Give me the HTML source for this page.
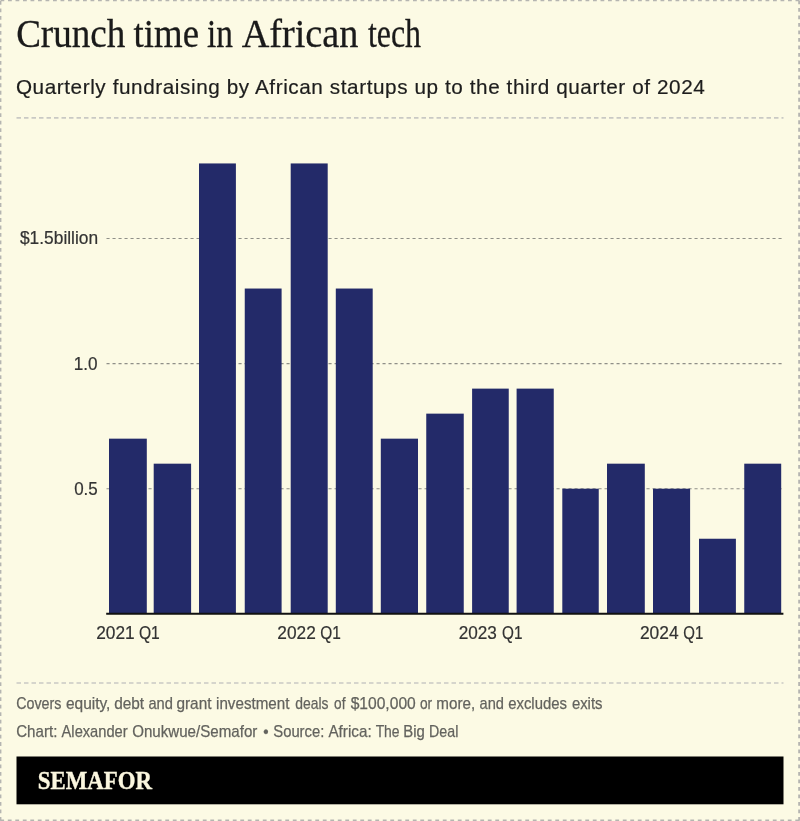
<!DOCTYPE html>
<html lang="en"><head><meta charset="utf-8"><title>Crunch time in African tech</title>
<style>html,body{margin:0;padding:0;background:#FCFAE4;}body{width:800px;height:821px;overflow:hidden;position:relative;font-family:"Liberation Sans",sans-serif;}svg{display:block;position:absolute;left:0;top:0;}</style>
</head><body>
<svg width="800" height="821" viewBox="0 0 800 821" role="img" aria-label="Crunch time in African tech">
<title>Crunch time in African tech</title>
<desc>Bar chart: Quarterly fundraising by African startups up to the third quarter of 2024, in billions of dollars, from 2021 Q1 to 2024 Q3. Covers equity, debt and grant investment deals of $100,000 or more, and excludes exits. Chart: Alexander Onukwue/Semafor • Source: Africa: The Big Deal. SEMAFOR</desc>
<rect x="0" y="0" width="800" height="821" fill="#FCFAE4"/>
<g stroke="#b5b5b1" fill="none">
<line x1="0.5" y1="0.65" x2="800" y2="0.65" stroke-width="1.3" stroke-dasharray="3.8 3.7"/>
<line x1="0.3" y1="820.3" x2="800" y2="820.3" stroke-width="1.4" stroke-dasharray="3.8 3.7"/>
<line x1="0.7" y1="1.0" x2="0.7" y2="821" stroke-width="1.4" stroke-dasharray="3.8 3.686"/>
<line x1="799.1" y1="0.5" x2="799.1" y2="821" stroke-width="1.8" stroke-dasharray="3.8 3.69"/>
</g>
<line x1="16.5" y1="117.9" x2="783.5" y2="117.9" stroke="#c9c9c4" stroke-width="1.6" stroke-dasharray="4.5 3"/>
<line x1="16.5" y1="683" x2="783.5" y2="683" stroke="#c9c9c4" stroke-width="1.6" stroke-dasharray="4.5 3"/>
<line x1="106.5" y1="488.70" x2="783.5" y2="488.70" stroke="#8f8f88" stroke-width="1.15" stroke-dasharray="3.1 2.9"/>
<line x1="106.5" y1="363.60" x2="783.5" y2="363.60" stroke="#8f8f88" stroke-width="1.15" stroke-dasharray="3.1 2.9"/>
<line x1="106.5" y1="238.50" x2="783.5" y2="238.50" stroke="#8f8f88" stroke-width="1.15" stroke-dasharray="3.1 2.9"/>
<rect x="109.00" y="438.66" width="37.80" height="174.84" fill="#232A69"/>
<rect x="153.70" y="463.68" width="37.40" height="149.82" fill="#232A69"/>
<rect x="199.00" y="163.44" width="36.90" height="450.06" fill="#232A69"/>
<rect x="244.75" y="288.54" width="36.85" height="324.96" fill="#232A69"/>
<rect x="290.70" y="163.44" width="37.00" height="450.06" fill="#232A69"/>
<rect x="335.80" y="288.54" width="36.90" height="324.96" fill="#232A69"/>
<rect x="380.80" y="438.66" width="37.20" height="174.84" fill="#232A69"/>
<rect x="426.25" y="413.64" width="37.50" height="199.86" fill="#232A69"/>
<rect x="472.10" y="388.62" width="36.65" height="224.88" fill="#232A69"/>
<rect x="516.60" y="388.62" width="37.15" height="224.88" fill="#232A69"/>
<rect x="562.30" y="488.70" width="36.45" height="124.80" fill="#232A69"/>
<rect x="607.00" y="463.68" width="37.80" height="149.82" fill="#232A69"/>
<rect x="653.00" y="488.70" width="37.10" height="124.80" fill="#232A69"/>
<rect x="699.00" y="538.74" width="36.90" height="74.76" fill="#232A69"/>
<rect x="744.25" y="463.68" width="36.95" height="149.82" fill="#232A69"/>
<line x1="106.2" y1="613.80" x2="783.4" y2="613.80" stroke="#111" stroke-width="1.9"/>
<rect x="16.5" y="756.5" width="767" height="47.8" fill="#000"/>
<text y="46.60" font-family="'Liberation Serif', serif" font-size="41" fill="#1a1a1a" stroke="#1a1a1a" stroke-width="0.3"><tspan x="16.14" textLength="109.20" lengthAdjust="spacingAndGlyphs">Crunch</tspan><tspan> </tspan><tspan x="133.58" textLength="65.41" lengthAdjust="spacingAndGlyphs">time</tspan><tspan> </tspan><tspan x="206.90" textLength="25.94" lengthAdjust="spacingAndGlyphs">in</tspan><tspan> </tspan><tspan x="241.66" textLength="116.74" lengthAdjust="spacingAndGlyphs">African</tspan><tspan> </tspan><tspan x="367.91" textLength="53.14" lengthAdjust="spacingAndGlyphs">tech</tspan></text>
<text y="94.40" font-family="'Liberation Sans', sans-serif" font-size="20.7" fill="#1d1d1d" stroke="#1d1d1d" stroke-width="0.2"><tspan x="15.91" textLength="688.84" lengthAdjust="spacing">Quarterly fundraising by African startups up to the third quarter of 2024</tspan></text>
<text y="244.40" font-family="'Liberation Sans', sans-serif" font-size="17.5" fill="#333" stroke="#333" stroke-width="0.2"><tspan x="19.95" textLength="78.19" lengthAdjust="spacingAndGlyphs">$1.5billion</tspan></text>
<text y="369.70" font-family="'Liberation Sans', sans-serif" font-size="17.5" fill="#333" stroke="#333" stroke-width="0.2"><tspan x="73.71" textLength="23.82" lengthAdjust="spacingAndGlyphs">1.0</tspan></text>
<text y="494.60" font-family="'Liberation Sans', sans-serif" font-size="17.5" fill="#333" stroke="#333" stroke-width="0.2"><tspan x="74.15" textLength="23.56" lengthAdjust="spacingAndGlyphs">0.5</tspan></text>
<text y="639.00" font-family="'Liberation Sans', sans-serif" font-size="17.5" fill="#333" stroke="#333" stroke-width="0.2"><tspan x="96.23" textLength="38.47" lengthAdjust="spacingAndGlyphs">2021</tspan><tspan> </tspan><tspan x="138.89" textLength="20.90" lengthAdjust="spacingAndGlyphs">Q1</tspan><tspan> </tspan><tspan x="277.32" textLength="38.48" lengthAdjust="spacingAndGlyphs">2022</tspan><tspan> </tspan><tspan x="320.16" textLength="20.60" lengthAdjust="spacingAndGlyphs">Q1</tspan><tspan> </tspan><tspan x="458.73" textLength="38.16" lengthAdjust="spacingAndGlyphs">2023</tspan><tspan> </tspan><tspan x="502.00" textLength="20.42" lengthAdjust="spacingAndGlyphs">Q1</tspan><tspan> </tspan><tspan x="639.91" textLength="38.66" lengthAdjust="spacingAndGlyphs">2024</tspan><tspan> </tspan><tspan x="683.30" textLength="19.98" lengthAdjust="spacingAndGlyphs">Q1</tspan></text>
<text y="708.70" font-family="'Liberation Sans', sans-serif" font-size="16.4" fill="#63635e" stroke="#63635e" stroke-width="0.25"><tspan x="16.20" textLength="45.29" lengthAdjust="spacingAndGlyphs">Covers</tspan><tspan> </tspan><tspan x="65.94" textLength="44.49" lengthAdjust="spacingAndGlyphs">equity,</tspan><tspan> </tspan><tspan x="114.20" textLength="29.93" lengthAdjust="spacingAndGlyphs">debt</tspan><tspan> </tspan><tspan x="148.46" textLength="24.48" lengthAdjust="spacingAndGlyphs">and</tspan><tspan> </tspan><tspan x="176.43" textLength="35.03" lengthAdjust="spacingAndGlyphs">grant</tspan><tspan> </tspan><tspan x="216.05" textLength="73.43" lengthAdjust="spacingAndGlyphs">investment</tspan><tspan> </tspan><tspan x="295.23" textLength="33.23" lengthAdjust="spacingAndGlyphs">deals</tspan><tspan> </tspan><tspan x="334.07" textLength="11.38" lengthAdjust="spacingAndGlyphs">of</tspan><tspan> </tspan><tspan x="350.63" textLength="65.16" lengthAdjust="spacingAndGlyphs">$100,000</tspan><tspan> </tspan><tspan x="419.95" textLength="12.23" lengthAdjust="spacingAndGlyphs">or</tspan><tspan> </tspan><tspan x="436.37" textLength="38.83" lengthAdjust="spacingAndGlyphs">more,</tspan><tspan> </tspan><tspan x="479.57" textLength="24.46" lengthAdjust="spacingAndGlyphs">and</tspan><tspan> </tspan><tspan x="508.22" textLength="58.74" lengthAdjust="spacingAndGlyphs">excludes</tspan><tspan> </tspan><tspan x="571.92" textLength="30.60" lengthAdjust="spacingAndGlyphs">exits</tspan></text>
<text y="736.50" font-family="'Liberation Sans', sans-serif" font-size="16.4" fill="#63635e" stroke="#63635e" stroke-width="0.25"><tspan x="16.20" textLength="41.21" lengthAdjust="spacingAndGlyphs">Chart:</tspan><tspan> </tspan><tspan x="61.59" textLength="66.08" lengthAdjust="spacingAndGlyphs">Alexander</tspan><tspan> </tspan><tspan x="132.20" textLength="125.14" lengthAdjust="spacingAndGlyphs">Onukwue/Semafor</tspan><tspan> </tspan><tspan x="263.18" textLength="5.37" lengthAdjust="spacingAndGlyphs">•</tspan><tspan> </tspan><tspan x="273.28" textLength="51.05" lengthAdjust="spacingAndGlyphs">Source:</tspan><tspan> </tspan><tspan x="328.46" textLength="43.18" lengthAdjust="spacingAndGlyphs">Africa:</tspan><tspan> </tspan><tspan x="375.63" textLength="23.96" lengthAdjust="spacingAndGlyphs">The</tspan><tspan> </tspan><tspan x="403.37" textLength="21.55" lengthAdjust="spacingAndGlyphs">Big</tspan><tspan> </tspan><tspan x="429.09" textLength="29.26" lengthAdjust="spacingAndGlyphs">Deal</tspan></text>
<text y="789.10" font-family="'Liberation Serif', serif" font-size="25.7" fill="#FBF7DF" font-weight="bold" stroke="#FBF7DF" stroke-width="0.4"><tspan x="37.79" textLength="114.16" lengthAdjust="spacingAndGlyphs">SEMAFOR</tspan></text>
</svg>
</body></html>
